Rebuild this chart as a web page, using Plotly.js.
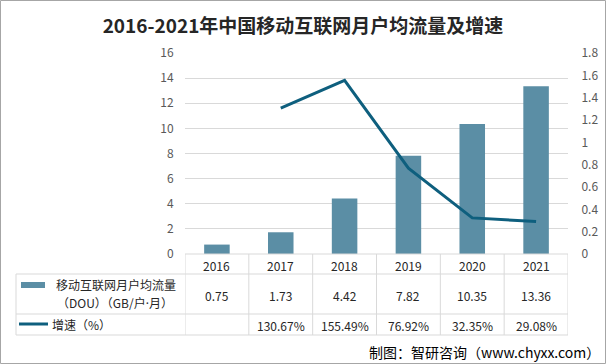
<!DOCTYPE html>
<html>
<head>
<meta charset="utf-8">
<script src="https://cdn.plot.ly/plotly-3.0.1.min.js"></script>
<style>
html,body{margin:0;padding:0;background:#fff;}
#chart{width:606px;height:364px;}
</style>
</head>
<body>
<div id="chart"></div>
<script>
// ---- data ----
const years = ['2016', '2017', '2018', '2019', '2020', '2021'];
const dou = [0.75, 1.73, 4.42, 7.82, 10.35, 13.36];            // GB/户·月
const growthPct = [null, 130.67, 155.49, 76.92, 32.35, 29.08];  // %
const leftTicks = [0, 2, 4, 6, 8, 10, 12, 14, 16];
const rightTicks = [0, 0.2, 0.4, 0.6, 0.8, 1, 1.2, 1.4, 1.6, 1.8];
const seriesNames = ['移动互联网月户均流量', '（DOU）（GB/户<span style="font-family:Noto Sans">·</span>月）', '增速（%）'];
const titleText = '2016-2021年中国移动互联网月户均流量及增速';
const sourceText = '制图：智研咨询（www.chyxx.com）';

// ---- layout helpers (plot area: x 185..568, y 53..254) ----
const W = 606, H = 364, L = 185, R = 568, T = 53, B = 254;
const px = v => (v - L) / (R - L);
const py = v => (B - v) / (B - T);

const barColor = '#5b8ea5';
const lineColor = '#0e5f7e';
const gridColor = '#d9d9d9';
const font = '"Noto Sans CJK SC", "Noto Sans", sans-serif';

const traces = [
  {
    type: 'bar', x: years, y: dou, name: seriesNames[0],
    marker: {color: barColor}, hoverinfo: 'skip'
  },
  {
    type: 'scatter', mode: 'lines', x: years, y: growthPct.map(v => v === null ? null : v / 100),
    yaxis: 'y2', name: seriesNames[2], line: {color: lineColor, width: 3}, connectgaps: false, hoverinfo: 'skip'
  }
];

const shapes = [];
const annotations = [];
const tl = (x0, y0, x1, y1, xref) => shapes.push({type: 'line', xref: xref || 'paper', yref: 'paper',
  x0, y0, x1, y1, line: {color: gridColor, width: 1}});

// table horizontal lines
[274, 314, 335].forEach(v => tl(px(16), py(v), px(R), py(v)));
tl(px(L), py(B), px(R), py(B));
// table left border
tl(px(16), py(274), px(16), py(335));
// category boundary verticals
for (let i = 0; i <= years.length; i++) tl(i - 0.5, py(B), i - 0.5, py(335), 'x');

// legend keys
shapes.push({type: 'rect', xref: 'paper', yref: 'paper', x0: px(21), x1: px(45), y0: py(282), y1: py(288),
  fillcolor: barColor, line: {width: 0}});
shapes.push({type: 'line', xref: 'paper', yref: 'paper', x0: px(19), x1: px(48), y0: py(324), y1: py(324),
  line: {color: lineColor, width: 3}});
// outer frame
shapes.push({type: 'rect', xref: 'paper', yref: 'paper', x0: px(0.5), x1: px(W - 0.5), y0: py(0.5), y1: py(H - 0.5),
  line: {color: '#a6a6a6', width: 1}, fillcolor: 'rgba(0,0,0,0)'});

const cellFont = {family: font, size: 12, color: '#262626'};
const ann = (text, x, y, xref, xanchor, f) => annotations.push({text, x, y, xref: xref || 'paper', yref: 'paper',
  xanchor: xanchor || 'center', yanchor: 'middle', showarrow: false, font: f || cellFont, align: 'center'});

years.forEach((yr, i) => {
  ann(yr, i, py(265), 'x');
  ann(dou[i].toFixed(2), i, py(295), 'x');
  if (growthPct[i] !== null) ann(growthPct[i].toFixed(2) + '%', i, py(325), 'x');
});
const labFont = {family: font, size: 12, color: '#262626'};
ann(seriesNames[0], px(116), py(284), 'paper', 'center', labFont);
ann(seriesNames[1], px(115), py(303), 'paper', 'center', labFont);
ann(seriesNames[2], px(50), py(324), 'paper', 'left', labFont);
ann(sourceText, px(602), py(352), 'paper', 'right', {family: font, size: 14, color: '#000'});

const layout = {
  width: W, height: H,
  margin: {l: L, r: W - R, t: T, b: H - B, pad: 0},
  paper_bgcolor: '#fff', plot_bgcolor: '#fff',
  showlegend: false,
  bargap: 0.6,
  title: {text: titleText, x: 0.5, xref: 'container', xanchor: 'center', y: 1 - 26 / H, yanchor: 'middle',
    font: {family: font, size: 19, color: '#262626', weight: 'bold'}},
  xaxis: {type: 'category', showticklabels: false, ticks: '', showgrid: false, zeroline: false, showline: false,
    range: [-0.5, years.length - 0.5], fixedrange: true},
  yaxis: {range: [0, 16], tickvals: leftTicks, ticktext: leftTicks.map(String), showgrid: true, gridcolor: gridColor,
    gridwidth: 1, zeroline: false, showline: false, ticks: 'outside', ticklen: 8, tickcolor: 'rgba(0,0,0,0)',
    tickfont: {family: font, size: 12, color: '#595959'}, fixedrange: true},
  yaxis2: {range: [0, 1.8], overlaying: 'y', side: 'right', tickvals: rightTicks, ticktext: rightTicks.map(String),
    showgrid: false, zeroline: false, showline: false, ticks: 'outside', ticklen: 10, tickcolor: 'rgba(0,0,0,0)',
    tickfont: {family: font, size: 12, color: '#595959'}, fixedrange: true},
  shapes, annotations
};

Plotly.newPlot('chart', traces, layout, {displayModeBar: false, staticPlot: true});
</script>
</body>
</html>
